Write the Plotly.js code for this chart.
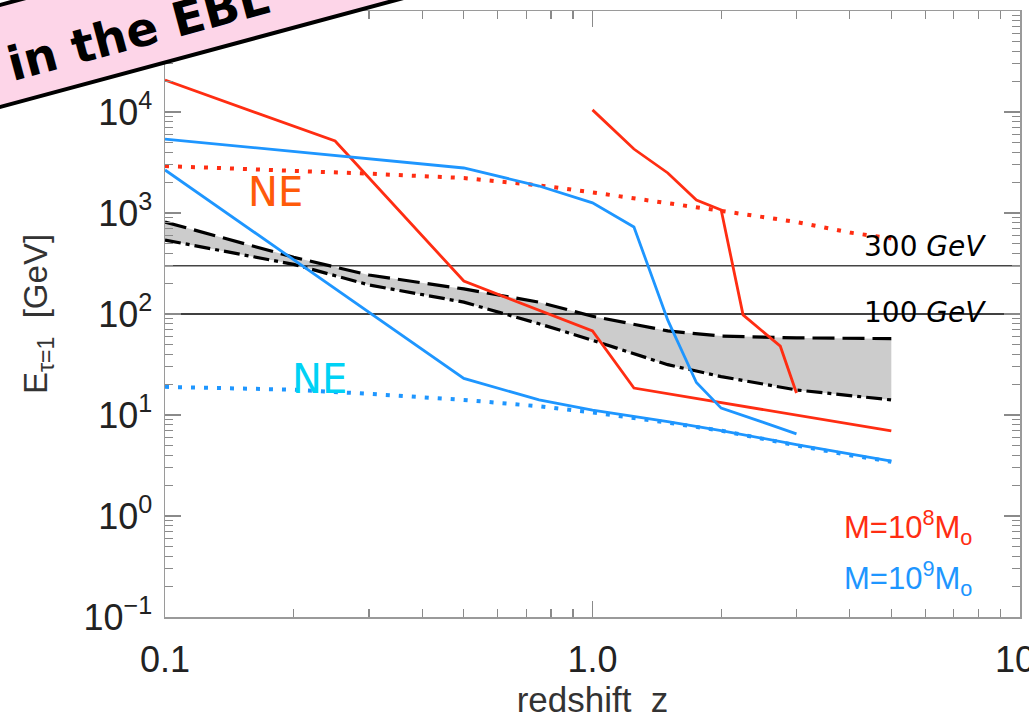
<!DOCTYPE html>
<html>
<head>
<meta charset="utf-8">
<script src="https://cdn.plot.ly/plotly-3.0.1.min.js"></script>
<style>html,body{margin:0;padding:0;background:#fff;}#chart{width:1029px;height:721px;}</style>
</head>
<body>
<div id="chart"></div>
<script>
// ---- data (redshift z, E_tau=1 in GeV) ----
const zRed8Low   = [0.1, 0.25, 0.5, 1.0, 1.25, 5.0];
const eRed8Low   = [20700, 5160, 212, 68, 18.5, 6.95];

const zRed8High  = [1.0, 1.25, 1.5, 1.75, 2.0, 2.25, 2.75, 3.0];
const eRed8High  = [10500, 4300, 2490, 1345, 1070, 98, 48, 16.5];

const zBlue9High = [0.1, 0.5, 0.75, 1.0, 1.25, 1.5, 1.75, 2.0, 2.5, 3.0];
const eBlue9High = [5400, 2790, 1850, 1260, 727, 87, 21, 11.7, 8.5, 6.5];

const zBlue9Low  = [0.1, 0.25, 0.5, 0.75, 1.0, 1.5, 2.0, 3.0, 5.0];
const eBlue9Low  = [2670, 177, 23, 14.1, 11.2, 8.6, 7.0, 5.1, 3.5];

const zNE        = [0.1, 0.2, 0.3, 0.5, 0.75, 1.0, 1.5, 2.0, 3.0, 4.0, 5.0];
const eNERed     = [2920, 2650, 2450, 2220, 1880, 1600, 1260, 1050, 815, 640, 560];
const eNEBlue    = [19, 17.8, 16.2, 14.1, 12.2, 10.6, 8.4, 7.0, 5.0, 4.0, 3.45];

const zEBL       = [0.1, 0.2, 0.3, 0.5, 0.75, 1.0, 1.5, 2.0, 3.0, 4.0, 5.0];
const eEBLUpper  = [815, 365, 243, 177, 131, 95, 68, 60.5, 58, 57.5, 57];
const eEBLLower  = [540, 310, 194, 131, 80, 55, 31.5, 24, 17.7, 15.5, 14.1];

const thresholds = [300, 100];
const thresholdLabels = ['300 <i>GeV</i>', '100 <i>GeV</i>'];
const zSpan = [0.1, 10];

const xTickVals = [0.1, 1, 10];
const xTickText = ['0.1', '1.0', '10.'];
const yTickVals = [0.1, 1, 10, 100, 1000, 10000];
const yTickText = ['10<sup>\u22121</sup>', '10<sup>0</sup>', '10<sup>1</sup>', '10<sup>2</sup>', '10<sup>3</sup>', '10<sup>4</sup>'];

// ---- styling ----
const RED = '#ff2d12', BLUE = '#1e96ff';
const SANS = 'Liberation Sans, Arial, sans-serif';
function minorVals(lo, hi) {
  const v = [];
  for (let d = lo; d < hi; d *= 10) for (let k = 2; k <= 9; k++) v.push(+(k * d).toPrecision(3));
  return v;
}

const traces = [
  {x: zEBL, y: eEBLLower, mode: 'lines', line: {color: 'rgba(0,0,0,0)', width: 0}},
  {x: zEBL, y: eEBLUpper, mode: 'lines', fill: 'tonexty', fillcolor: '#cccccc', line: {color: 'rgba(0,0,0,0)', width: 0}},
  {x: zSpan, y: [thresholds[0], thresholds[0]], mode: 'lines', line: {color: '#444', width: 1.5}},
  {x: zSpan, y: [thresholds[1], thresholds[1]], mode: 'lines', line: {color: '#000', width: 1.5}},
  {x: zEBL, y: eEBLUpper, mode: 'lines', line: {color: '#000', width: 3.2, dash: '22px,8px'}},
  {x: zEBL, y: eEBLLower, mode: 'lines', line: {color: '#000', width: 3.2, dash: '16px,5px,4px,5px'}},
  {x: zNE, y: eNERed, mode: 'lines', line: {color: RED, width: 4, dash: '4px,9px'}},
  {x: zNE, y: eNEBlue, mode: 'lines', line: {color: BLUE, width: 4, dash: '4px,9px'}},
  {x: zRed8Low, y: eRed8Low, mode: 'lines', line: {color: RED, width: 2.8}},
  {x: zRed8High, y: eRed8High, mode: 'lines', line: {color: RED, width: 2.8}},
  {x: zBlue9High, y: eBlue9High, mode: 'lines', line: {color: BLUE, width: 2.8}},
  {x: zBlue9Low, y: eBlue9Low, mode: 'lines', line: {color: BLUE, width: 2.8}}
];

const axisCommon = {
  type: 'log', showgrid: false, zeroline: false,
  showline: true, linecolor: '#9a9a9a', linewidth: 1.5, mirror: 'ticks',
  ticks: 'inside', ticklen: 16, tickwidth: 1.5, tickcolor: '#8a8a8a',
  tickmode: 'array', ticklabeloverflow: 'allow',
  tickfont: {family: SANS, size: 36, color: '#222'}
};

const ann = (x, y, text, font, extra) => Object.assign(
  {xref: 'paper', yref: 'paper', x: x, y: y, text: text, showarrow: false, xanchor: 'center', yanchor: 'middle', font: font},
  extra || {});

const layout = {
  width: 1029, height: 721,
  margin: {l: 165, r: 9, t: 11, b: 104},
  paper_bgcolor: '#fff', plot_bgcolor: '#fff',
  showlegend: false, hovermode: false,
  xaxis: Object.assign({}, axisCommon, {
    range: [-1, 1], tickvals: xTickVals, ticktext: xTickText,
    ticklabelstandoff: 10,
    minor: {tickmode: 'array', tickvals: minorVals(0.1, 10), ticks: 'inside', ticklen: 8, tickcolor: '#8a8a8a', tickwidth: 1.2},
    title: {text: 'redshift  z', standoff: 8, font: {family: SANS, size: 35, color: '#333'}}
  }),
  yaxis: Object.assign({}, axisCommon, {
    range: [-1, 5], tickvals: yTickVals, ticktext: yTickText,
    ticklabelstandoff: 4,
    minor: {tickmode: 'array', tickvals: minorVals(0.1, 100000), ticks: 'inside', ticklen: 8, tickcolor: '#8a8a8a', tickwidth: 1.2},
    title: {text: 'E<sub>\u03c4=1</sub>  [GeV]', standoff: 26, font: {family: SANS, size: 33, color: '#333'}}
  }),
  shapes: [
    {type: 'path', xref: 'paper', yref: 'paper', layer: 'above',
     path: 'M -0.2164,0.8327 L -0.2164,1.001 L 0.4152,1.2416 L 0.4152,1.0733 Z',
     fillcolor: '#fdd5e8', line: {color: '#000', width: 4}}
  ],
  annotations: [
    ann(-0.031, 0.967, '<b>in the EBL</b>', {family: 'DejaVu Sans, sans-serif', size: 47, color: '#000'}, {textangle: -15}),
    ann(0.889, 0.6106, thresholdLabels[0], {family: 'DejaVu Sans, sans-serif', size: 28, color: '#000'}),
    ann(0.889, 0.503, thresholdLabels[1], {family: 'DejaVu Sans, sans-serif', size: 28, color: '#000'}),
    ann(0.1287, 0.701, 'NE', {family: 'DejaVu Sans, sans-serif', size: 40, color: '#ff5a0a'}),
    ann(0.181, 0.393, 'NE', {family: 'DejaVu Sans, sans-serif', size: 40, color: '#00d2f5'}),
    ann(0.869, 0.147, 'M=10<sup>8</sup>M<sub>o</sub>', {family: SANS, size: 31, color: RED}),
    ann(0.869, 0.064, 'M=10<sup>9</sup>M<sub>o</sub>', {family: SANS, size: 31, color: BLUE})
  ]
};

Plotly.newPlot('chart', traces, layout, {displayModeBar: false, staticPlot: true});
</script>
</body>
</html>
